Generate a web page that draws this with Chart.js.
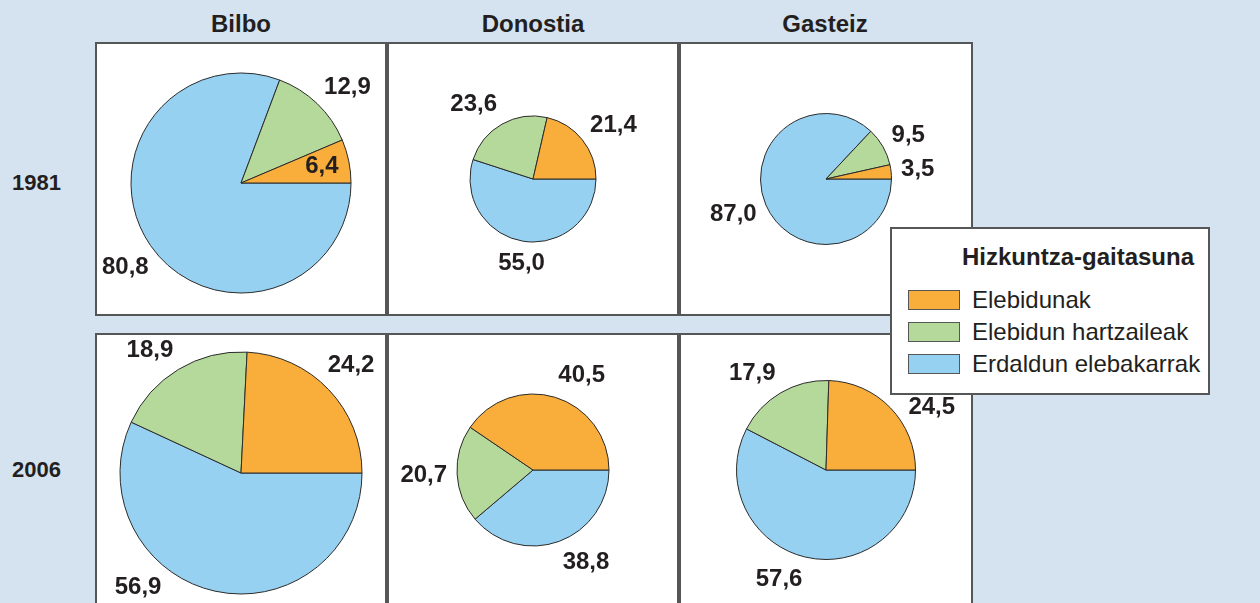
<!DOCTYPE html>
<html lang="eu">
<head>
<meta charset="utf-8">
<title>Hizkuntza-gaitasuna</title>
<script src="https://cdn.jsdelivr.net/npm/chart.js@4.4.1/dist/chart.umd.min.js"></script>
<style>
    html, body { margin: 0; padding: 0; }
    body {
        width: 1260px; height: 603px; overflow: hidden; position: relative;
        background: #d5e3f1; color: #231f20;
        font-family: "Liberation Sans", Arial, sans-serif;
    }
    .city { position: absolute; top: 10px; width: 292px; text-align: center; font-weight: bold; font-size: 24px; line-height: 27px; }
    .year { position: absolute; left: 12px; font-weight: bold; font-size: 22px; line-height: 25px; }
    .panel { position: absolute; height: 270px; background: #fff; border: 2px solid #555658; }
    .panel canvas { display: block; }
    #legend {
        position: absolute; left: 890px; top: 227px; width: 316px; height: 164px;
        background: #fff; border: 2px solid #555658; z-index: 5;
    }
    #legend .title { position: absolute; left: 70px; top: 14px; white-space: nowrap; font-weight: bold; font-size: 24px; line-height: 27px; }
    #legend .item { position: absolute; left: 16px; height: 26px; font-size: 24px; line-height: 26px; }
    #legend .swatch { position: absolute; left: 0; top: 3px; width: 50px; height: 18px; border: 1px solid #555658; }
    #legend .item span { position: absolute; left: 64px; white-space: nowrap; }
</style>
</head>
<body>
<div id="legend"><div class="title">Hizkuntza-gaitasuna</div></div>

<script>
    // Hiriak eta urteak
    const cities = ["Bilbo", "Donostia", "Gasteiz"];
    const years = ["1981", "2006"];
    const categories = ["Elebidunak", "Elebidun hartzaileak", "Erdaldun elebakarrak"];
    const colors = ["#f9ad3b", "#b5d99b", "#96d1f1"];

    // Balioak (%), [urtea][hiria]
    const elebidunak = [[6.4, 21.4, 3.5], [24.2, 40.5, 24.5]];
    const hartzaileak = [[12.9, 23.6, 9.5], [18.9, 20.7, 17.9]];
    const erdaldunak = [[80.8, 55.0, 87.0], [56.9, 38.8, 57.6]];

    // Pasteletako erradioak (px) eta panelen kokapena
    const radius = [[110, 63, 65.5], [121, 76, 89.5]];
    const padTop = [[8, 0, 0], [6, 0, 0]];
    const colLeft = [95, 387, 679];
    const colWidth = [288, 288, 290];
    const rowTop = [42, 333];
    const yearTop = [170, 457];

    // Legenda
    let legend = document.getElementById("legend");
    categories.forEach((c, i) => {
        let item = document.createElement("div");
        item.className = "item";
        item.style.top = (58 + i * 32) + "px";
        item.innerHTML = '<div class="swatch" style="background:' + colors[i] + '"></div><span>' + c + '</span>';
        legend.appendChild(item);
    });

    cities.forEach((c, j) => {
        let d = document.createElement("div");
        d.className = "city";
        d.style.left = colLeft[j] + "px";
        d.textContent = c;
        document.body.appendChild(d);
    });
    years.forEach((y, i) => {
        let d = document.createElement("div");
        d.className = "year";
        d.style.top = yearTop[i] + "px";
        d.textContent = y;
        document.body.appendChild(d);
    });

    // Balioen etiketak: zatiaren erdian, kanpoaldean; sartzen ez bada, barruan
    const sliceLabels = {
        id: "sliceLabels",
        afterDatasetsDraw(chart) {
            const ctx = chart.ctx;
            const arcs = chart.getDatasetMeta(0).data;
            const values = chart.data.datasets[0].data;
            const W = chart.width, H = chart.height;
            const cr = chart.canvas.getBoundingClientRect();
            const lr = legend.getBoundingClientRect();
            const block = { x1: lr.left - cr.left, y1: lr.top - cr.top, x2: lr.right - cr.left, y2: lr.bottom - cr.top };
            const h = 18, pad = 3;
            ctx.save();
            ctx.font = 'bold 24px "Liberation Sans", Arial, sans-serif';
            ctx.fillStyle = "#231f20";
            ctx.textBaseline = "middle";
            arcs.forEach((arc, i) => {
                const p = arc.getProps(["x", "y", "startAngle", "endAngle", "outerRadius"], true);
                const text = values[i].toFixed(1).replace(".", ",");
                const w = ctx.measureText(text).width;
                const mid = (p.startAngle + p.endAngle) / 2;
                const half = (p.endAngle - p.startAngle) / 2;
                const step = Math.PI / 36;
                let tries = [mid];
                for (let k = 1; k * step < half - 0.08; k++) {
                    tries.push(mid + k * step, mid - k * step);
                }
                let spot = null;
                for (const a of tries) {
                    const d = p.outerRadius + 10;
                    const ax = p.x + Math.cos(a) * d;
                    const ay = p.y + Math.sin(a) * d;
                    const c = Math.cos(a);
                    const left = c > 0.2 ? ax : (c < -0.2 ? ax - w : ax - w / 2);
                    const cy = ay + Math.sin(a) * h * 0.7;
                    const b = { x1: left, x2: left + w, y1: cy - h / 2, y2: cy + h / 2 };
                    const inside = b.x1 >= pad && b.x2 <= W - pad && b.y1 >= pad && b.y2 <= H - pad;
                    const hit = b.x2 > block.x1 && b.x1 < block.x2 && b.y2 > block.y1 && b.y1 < block.y2;
                    if (inside && !hit) { spot = { x: left + w / 2, y: cy }; break; }
                }
                if (!spot) {
                    const d = p.outerRadius * 0.75;
                    spot = { x: p.x + Math.cos(mid) * d, y: p.y + Math.sin(mid) * d };
                }
                ctx.textAlign = "center";
                ctx.fillText(text, spot.x, spot.y);
            });
            ctx.restore();
        }
    };

    // Erlojuaren norabidean marrazten da: erdaldunak, hartzaileak, elebidunak
    years.forEach((y, i) => {
        cities.forEach((c, j) => {
            let panel = document.createElement("div");
            panel.className = "panel";
            panel.style.left = colLeft[j] + "px";
            panel.style.top = rowTop[i] + "px";
            panel.style.width = colWidth[j] + "px";
            let canvas = document.createElement("canvas");
            canvas.width = colWidth[j];
            canvas.height = 270;
            panel.appendChild(canvas);
            document.body.appendChild(panel);

            new Chart(canvas.getContext("2d"), {
                type: "pie",
                data: {
                    labels: [categories[2], categories[1], categories[0]],
                    datasets: [{
                        data: [erdaldunak[i][j], hartzaileak[i][j], elebidunak[i][j]],
                        backgroundColor: [colors[2], colors[1], colors[0]],
                        borderColor: "#2b2b2b",
                        borderWidth: 1,
                        hoverOffset: 0
                    }]
                },
                options: {
                    responsive: false,
                    animation: false,
                    events: [],
                    rotation: 90,
                    radius: radius[i][j],
                    layout: { padding: { top: padTop[i][j] } },
                    plugins: {
                        legend: { display: false },
                        tooltip: { enabled: false }
                    }
                },
                plugins: [sliceLabels]
            });
        });
    });
</script>
</body>
</html>
